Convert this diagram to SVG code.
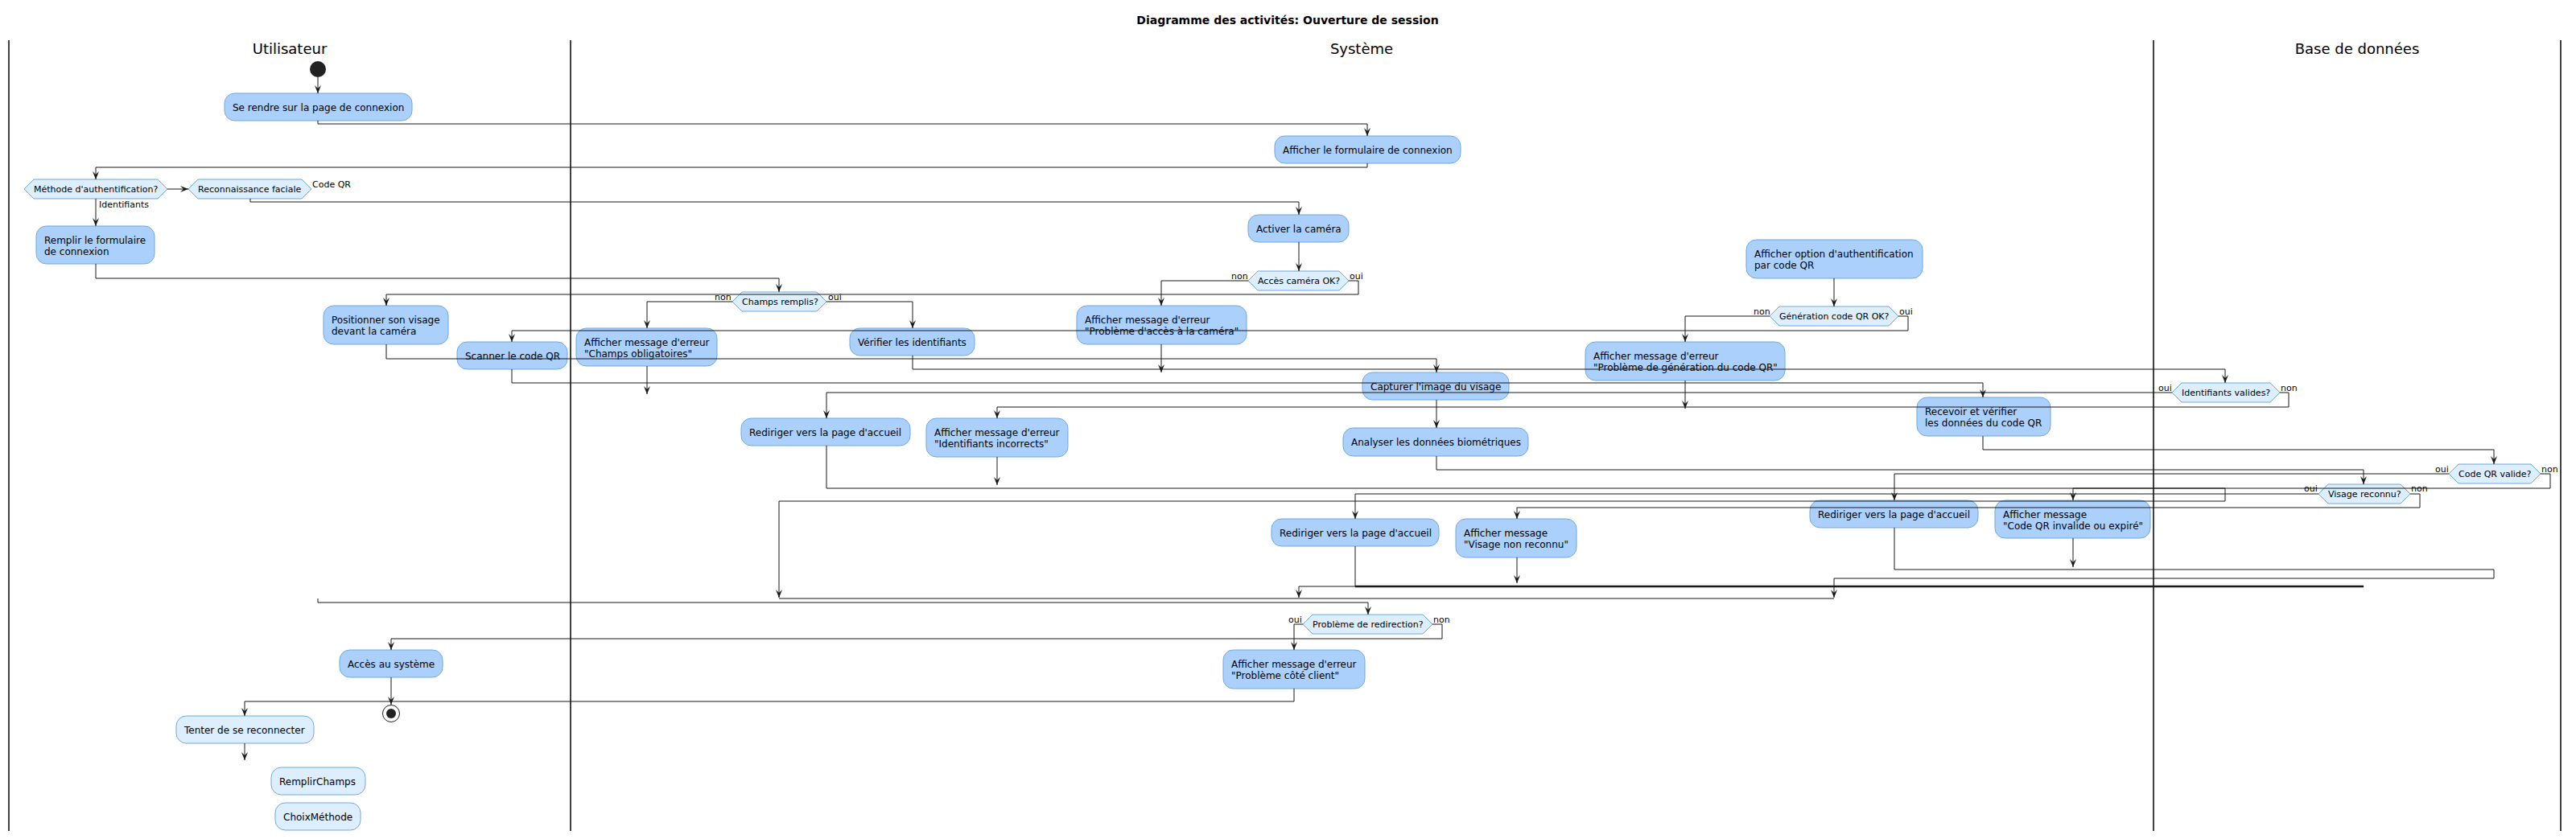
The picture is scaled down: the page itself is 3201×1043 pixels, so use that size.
<svg xmlns="http://www.w3.org/2000/svg" width="3201" height="1043" viewBox="0 0 3201 1043">
<style>
text{font-family:"DejaVu Sans","Liberation Sans",sans-serif;fill:#000}
.t{font-size:14px;font-weight:bold}
.lt{font-size:18px}
.a{font-size:12px}
.d{font-size:11px}
.l{font-size:11px}
.box{fill:#ABD0FC;stroke:#6FA8DC;stroke-width:1}
.lbox{fill:#DDEEFF;stroke:#6FA8DC;stroke-width:1}
.hex{fill:#DDEEFF;stroke:#6FA8DC;stroke-width:1}
.lane{stroke:#000;stroke-width:1.5}
.c path{fill:none;stroke:#181818;stroke-width:1}
.c .ar{marker-end:url(#ah)}
</style>
<defs>
<marker id="ah" markerUnits="userSpaceOnUse" markerWidth="10" markerHeight="8" refX="10" refY="4" orient="auto" viewBox="0 0 10 8">
<path d="M0,0 L10,4 L0,8 L4,4 Z" fill="#181818"/>
</marker>
</defs>
<rect x="0" y="0" width="3201" height="1043" fill="#fff"/>
<text class="t" x="1600" y="30" text-anchor="middle">Diagramme des activités: Ouverture de session</text>
<g id="lanes">
<line class="lane" x1="11" y1="50" x2="11" y2="1033"/>
<line class="lane" x1="709" y1="50" x2="709" y2="1033"/>
<line class="lane" x1="2676" y1="50" x2="2676" y2="1033"/>
<line class="lane" x1="3182" y1="50" x2="3182" y2="1033"/>
<text class="lt" x="360" y="67" text-anchor="middle">Utilisateur</text>
<text class="lt" x="1692" y="67" text-anchor="middle">Système</text>
<text class="lt" x="2929" y="67" text-anchor="middle">Base de données</text>
</g>
<g id="start"><circle cx="395" cy="86" r="10" fill="#222"/></g>
<g id="n_rendre"><rect class="box" x="279" y="116" width="233" height="34" rx="12.5"/><text class="a" x="289" y="137.5">Se rendre sur la page de connexion</text></g>
<g id="n_formulaire"><rect class="box" x="1584" y="169" width="231" height="34" rx="12.5"/><text class="a" x="1594" y="190.5">Afficher le formulaire de connexion</text></g>
<g id="d_methode"><polygon class="hex" points="30,235 42,223 196,223 208,235 196,247 42,247"/><text class="d" x="42" y="239">Méthode d'authentification?</text></g>
<g id="d_faciale"><polygon class="hex" points="234,235 246,223 375,223 387,235 375,247 246,247"/><text class="d" x="246" y="239">Reconnaissance faciale</text></g>
<g id="n_remplir"><rect class="box" x="45" y="281" width="147" height="47" rx="12.5"/><text class="a" x="55" y="302.5">Remplir le formulaire</text><text class="a" x="55" y="316.5">de connexion</text></g>
<g id="n_camera"><rect class="box" x="1551" y="267" width="125" height="34" rx="12.5"/><text class="a" x="1561" y="288.5">Activer la caméra</text></g>
<g id="d_camera"><polygon class="hex" points="1551,349 1563,337 1664,337 1676,349 1664,361 1563,361"/><text class="d" x="1563" y="353">Accès caméra OK?</text></g>
<g id="n_optionqr"><rect class="box" x="2170" y="298" width="219" height="48" rx="12.5"/><text class="a" x="2180" y="319.5">Afficher option d'authentification</text><text class="a" x="2180" y="333.5">par code QR</text></g>
<g id="d_champs"><polygon class="hex" points="910,375 922,363 1015,363 1027,375 1015,387 922,387"/><text class="d" x="922" y="379">Champs remplis?</text></g>
<g id="d_generation"><polygon class="hex" points="2199,393 2211,381 2347,381 2359,393 2347,405 2211,405"/><text class="d" x="2211" y="397">Génération code QR OK?</text></g>
<g id="n_positionner"><rect class="box" x="402" y="380" width="155" height="48" rx="12.5"/><text class="a" x="412" y="401.5">Positionner son visage</text><text class="a" x="412" y="415.5">devant la caméra</text></g>
<g id="n_errcamera"><rect class="box" x="1338" y="380" width="211" height="48" rx="12.5"/><text class="a" x="1348" y="401.5">Afficher message d'erreur</text><text class="a" x="1348" y="415.5">"Problème d'accès à la caméra"</text></g>
<g id="n_errchamps"><rect class="box" x="716" y="408" width="175" height="47" rx="12.5"/><text class="a" x="726" y="429.5">Afficher message d'erreur</text><text class="a" x="726" y="443.5">"Champs obligatoires"</text></g>
<g id="n_verifier"><rect class="box" x="1056" y="408" width="155" height="34" rx="12.5"/><text class="a" x="1066" y="429.5">Vérifier les identifiants</text></g>
<g id="n_scanner"><rect class="box" x="568" y="425" width="137" height="34" rx="12.5"/><text class="a" x="578" y="446.5">Scanner le code QR</text></g>
<g id="n_errgen"><rect class="box" x="1970" y="425" width="248" height="48" rx="12.5"/><text class="a" x="1980" y="446.5">Afficher message d'erreur</text><text class="a" x="1980" y="460.5">"Problème de génération du code QR"</text></g>
<g id="n_capturer"><rect class="box" x="1693" y="463" width="182" height="34" rx="12.5"/><text class="a" x="1703" y="484.5">Capturer l'image du visage</text></g>
<g id="d_identifiants"><polygon class="hex" points="2699,488 2711,476 2821,476 2833,488 2821,500 2711,500"/><text class="d" x="2711" y="492">Identifiants valides?</text></g>
<g id="n_recevoir"><rect class="box" x="2382" y="494" width="166" height="48" rx="12.5"/><text class="a" x="2392" y="515.5">Recevoir et vérifier</text><text class="a" x="2392" y="529.5">les données du code QR</text></g>
<g id="n_redir1"><rect class="box" x="921" y="520" width="210" height="34" rx="12.5"/><text class="a" x="931" y="541.5">Rediriger vers la page d'accueil</text></g>
<g id="n_errident"><rect class="box" x="1151" y="520" width="176" height="48" rx="12.5"/><text class="a" x="1161" y="541.5">Afficher message d'erreur</text><text class="a" x="1161" y="555.5">"Identifiants incorrects"</text></g>
<g id="n_analyser"><rect class="box" x="1669" y="532" width="230" height="35" rx="12.5"/><text class="a" x="1679" y="553.5">Analyser les données biométriques</text></g>
<g id="d_codeqr"><polygon class="hex" points="3043,589 3055,577 3145,577 3157,589 3145,601 3055,601"/><text class="d" x="3055" y="593">Code QR valide?</text></g>
<g id="d_visage"><polygon class="hex" points="2881,614 2893,602 2983,602 2995,614 2983,626 2893,626"/><text class="d" x="2893" y="618">Visage reconnu?</text></g>
<g id="n_redir3"><rect class="box" x="2249" y="622" width="209" height="34" rx="12.5"/><text class="a" x="2259" y="643.5">Rediriger vers la page d'accueil</text></g>
<g id="n_errqr"><rect class="box" x="2479" y="622" width="193" height="47" rx="12.5"/><text class="a" x="2489" y="643.5">Afficher message</text><text class="a" x="2489" y="657.5">"Code QR invalide ou expiré"</text></g>
<g id="n_redir2"><rect class="box" x="1580" y="645" width="208" height="34" rx="12.5"/><text class="a" x="1590" y="666.5">Rediriger vers la page d'accueil</text></g>
<g id="n_errvisage"><rect class="box" x="1809" y="645" width="150" height="48" rx="12.5"/><text class="a" x="1819" y="666.5">Afficher message</text><text class="a" x="1819" y="680.5">"Visage non reconnu"</text></g>
<g id="d_redirection"><polygon class="hex" points="1619,776 1631,764 1768,764 1780,776 1768,788 1631,788"/><text class="d" x="1631" y="780">Problème de redirection?</text></g>
<g id="n_acces"><rect class="box" x="422" y="808" width="128" height="34" rx="12.5"/><text class="a" x="432" y="829.5">Accès au système</text></g>
<g id="n_errclient"><rect class="box" x="1520" y="808" width="176" height="48" rx="12.5"/><text class="a" x="1530" y="829.5">Afficher message d'erreur</text><text class="a" x="1530" y="843.5">"Problème côté client"</text></g>
<g id="end"><circle cx="486" cy="887" r="10.5" fill="#fff" stroke="#222" stroke-width="1"/><circle cx="486" cy="887" r="6" fill="#222"/></g>
<g id="n_tenter"><rect class="lbox" x="219" y="890" width="171" height="34" rx="12.5"/><text class="a" x="229" y="911.5">Tenter de se reconnecter</text></g>
<g id="n_remplirchamps"><rect class="lbox" x="337" y="954" width="117" height="34" rx="12.5"/><text class="a" x="347" y="975.5">RemplirChamps</text></g>
<g id="n_choixmethode"><rect class="lbox" x="342" y="998" width="106" height="34" rx="12.5"/><text class="a" x="352" y="1019.5">ChoixMéthode</text></g>
<g id="connectors" class="c">
<path class="ar" d="M395,96 L395,116"/>
<path class="ar" d="M395,150 L395,154 L1699,154 L1699,169"/>
<path class="ar" d="M1699,203 L1699,208 L119,208 L119,223"/>
<path class="ar" d="M208,235 L234,235"/>
<path class="ar" d="M119,247 L119,281"/>
<path class="ar" d="M311,247 L311,251 L1614,251 L1614,267"/>
<path class="ar" d="M119,328 L119,346 L968,346 L968,363"/>
<path class="ar" d="M1614,301 L1614,337"/>
<path class="ar" d="M1676,349 L1688,349 L1688,366 L480,366 L480,380"/>
<path class="ar" d="M1551,349 L1443,349 L1443,380"/>
<path class="ar" d="M910,375 L804,375 L804,408"/>
<path class="ar" d="M1027,375 L1134,375 L1134,408"/>
<path class="ar" d="M2279,346 L2279,381"/>
<path class="ar" d="M2359,393 L2371,393 L2371,411 L636,411 L636,425"/>
<path class="ar" d="M2199,393 L2094,393 L2094,425"/>
<path class="ar" d="M480,428 L480,446 L1785,446 L1785,463"/>
<path class="ar" d="M1134,442 L1134,459 L2765,459 L2765,476"/>
<path class="ar" d="M636,459 L636,476 L2464,476 L2464,494"/>
<path class="ar" d="M804,455 L804,490"/>
<path class="ar" d="M1443,428 L1443,463"/>
<path class="ar" d="M2094,473 L2094,508"/>
<path class="ar" d="M2699,488 L1027,488 L1027,520"/>
<path class="ar" d="M2833,488 L2844,488 L2844,506 L1239,506 L1239,520"/>
<path class="ar" d="M1785,497 L1785,532"/>
<path class="ar" d="M2464,542 L2464,559 L3099,559 L3099,577"/>
<path class="ar" d="M1785,567 L1785,584 L2937,584 L2937,602"/>
<path class="ar" d="M3043,589 L2354,589 L2354,622"/>
<path class="ar" d="M3157,589 L3169,589 L3169,607 L2576,607 L2576,622"/>
<path class="ar" d="M2881,614 L1684,614 L1684,645"/>
<path class="ar" d="M2995,614 L3007,614 L3007,631 L1885,631 L1885,645"/>
<path class="ar" d="M1027,554 L1027,607 L2765,607 L2765,623 L968,623 L968,743"/>
<path class="ar" d="M1239,568 L1239,603"/>
<path class="ar" d="M1885,693 L1885,725"/>
<path class="ar" d="M2576,669 L2576,705"/>
<path class="ar" d="M2354,656 L2354,708 L3099,708 L3099,719 L2279,719 L2279,743"/>
<path class="ar" d="M1684,679 L1684,729 L1614,729 L1614,743"/>
<path d="M1684,729 L2937,729" style="stroke-width:2.5"/>
<path d="M968,744 L2279,744"/>
<path class="ar" d="M395,744 L395,749 L1700,749 L1700,764"/>
<path class="ar" d="M1780,776 L1792,776 L1792,794 L486,794 L486,808"/>
<path class="ar" d="M1619,776 L1608,776 L1608,808"/>
<path class="ar" d="M486,842 L486,876"/>
<path class="ar" d="M1608,856 L1608,872 L304,872 L304,890"/>
<path class="ar" d="M304,924 L304,945"/>
</g>
<g id="labels">
<text class="l" x="388" y="233">Code QR</text>
<text class="l" x="123" y="258">Identifiants</text>
<text class="l" x="888" y="373">non</text>
<text class="l" x="1029" y="373">oui</text>
<text class="l" x="1530" y="347">non</text>
<text class="l" x="1677" y="347">oui</text>
<text class="l" x="2179" y="391">non</text>
<text class="l" x="2360" y="391">oui</text>
<text class="l" x="2682" y="486">oui</text>
<text class="l" x="2834" y="486">non</text>
<text class="l" x="3026" y="587">oui</text>
<text class="l" x="3158" y="587">non</text>
<text class="l" x="2863" y="611">oui</text>
<text class="l" x="2996" y="611">non</text>
<text class="l" x="1601" y="774">oui</text>
<text class="l" x="1781" y="774">non</text>
</g>
</svg>
